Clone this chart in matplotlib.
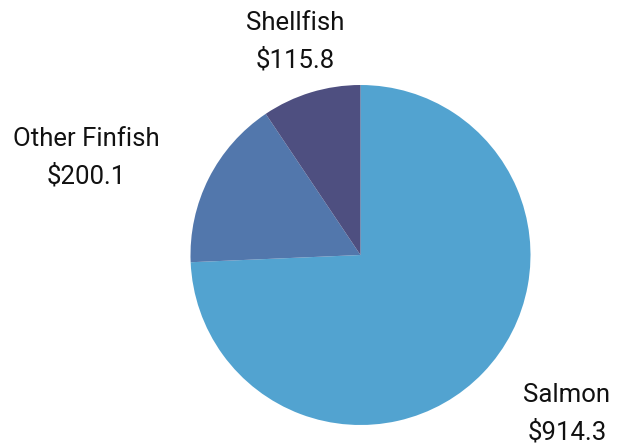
import matplotlib
matplotlib.use("Agg")
import matplotlib.pyplot as plt

categories = ["Salmon", "Other Finfish", "Shellfish"]
values = [914.3, 200.1, 115.8]
colors = ["#52A3D0", "#5277AC", "#4E4F80"]

W, H = 626, 443
fig = plt.figure(figsize=(W / 100, H / 100), dpi=100)
cx, cy, r = 360.5, 255, 170
ax = fig.add_axes([(cx - r) / W, (H - cy - r) / H, 2 * r / W, 2 * r / H])
ax.pie(values, colors=colors, startangle=90, counterclock=False,
       radius=1, wedgeprops=dict(linewidth=0))
ax.set_xlim(-1, 1)
ax.set_ylim(-1, 1)
ax.set_aspect("equal")
ax.axis("off")

# label anchor points in pixels (x, y of first line centre)
label_pos = {"Salmon": (567, 395), "Other Finfish": (86, 139), "Shellfish": (295, 23)}
for name, val in zip(categories, values):
    x, y = label_pos[name]
    fig.text(x / W, 1 - y / H, name, ha="center", va="center",
             fontsize=18.5, family="Roboto", color="#111111")
    fig.text(x / W, 1 - (y + 37) / H, f"${val:.1f}", ha="center", va="center",
             fontsize=18.5, family="Roboto", color="#111111")

fig.savefig("out.png", dpi=100)
